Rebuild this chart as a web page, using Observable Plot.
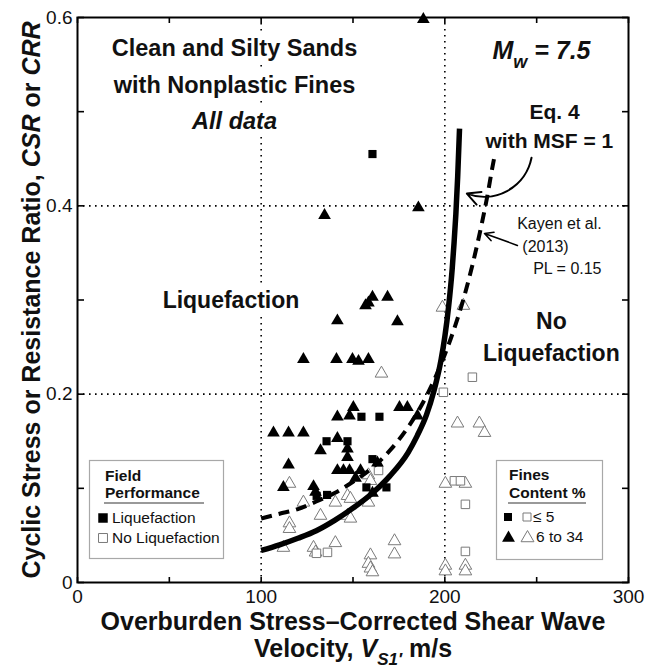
<!DOCTYPE html>
<html><head><meta charset="utf-8">
<script src="https://cdn.jsdelivr.net/npm/d3@7"></script>
<script src="https://cdn.jsdelivr.net/npm/@observablehq/plot@0.6"></script>
<style>
html,body{margin:0;padding:0;background:#fff;}
#chart{position:relative;width:648px;height:668px;}
#chart svg{display:block;}
</style></head>
<body><div id="chart"></div>
<script>
// ---- Data ----
// Field performance: Liquefaction, fines content <= 5 % (filled squares)
const liqFinesLow = [[160.6,0.455],[164.4,0.176],[154.6,0.176],[135.6,0.150],[147.0,0.150],[160.6,0.131],[157.3,0.101],[168.2,0.101],[130.2,0.092],[135.9,0.093]];
// Liquefaction, fines content 6 to 34 % (filled triangles)
const liqFinesHigh = [[188.3,0.598],[185.6,0.398],[134.5,0.390],[160.6,0.303],[158.4,0.297],[156.8,0.294],[168.8,0.303],[141.5,0.278],[174.2,0.277],[123.0,0.237],[141.0,0.237],[149.7,0.237],[153.0,0.235],[158.4,0.237],[150.2,0.186],[148.1,0.177],[141.5,0.176],[175.3,0.186],[179.6,0.186],[185.1,0.177],[106.7,0.159],[114.9,0.159],[123.0,0.159],[141.5,0.153],[132.3,0.140],[147.0,0.142],[147.0,0.133],[114.9,0.125],[141.5,0.119],[144.8,0.119],[148.1,0.119],[154.1,0.119],[151.4,0.111],[163.3,0.127],[112.1,0.101],[128.5,0.102],[129.6,0.096],[160.6,0.095]];
// No liquefaction, fines content <= 5 % (open squares)
const noLiqFinesLow = [[215.0,0.218],[199.2,0.202],[163.9,0.119],[130.1,0.031],[136.1,0.032],[205.2,0.108],[208.5,0.108],[211.2,0.083],[211.2,0.033]];
// No liquefaction, fines content 6 to 34 % (open triangles)
const noLiqFinesHigh = [[198.7,0.292],[210.1,0.294],[165.5,0.222],[206.9,0.169],[218.8,0.169],[221.6,0.159],[115.4,0.105],[123.0,0.085],[158.4,0.114],[159.5,0.108],[140.4,0.085],[147.0,0.092],[148.6,0.089],[158.4,0.085],[115.4,0.063],[115.4,0.057],[132.3,0.071],[147.0,0.071],[148.6,0.068],[112.1,0.037],[128.5,0.037],[129.6,0.032],[140.4,0.042],[159.5,0.029],[158.4,0.020],[159.5,0.015],[160.6,0.011],[172.6,0.044],[172.6,0.030],[200.3,0.105],[211.2,0.105],[200.3,0.018],[200.3,0.012],[211.2,0.018],[211.2,0.012]];
// Eq. 4 with MSF = 1 (solid curve)
const eq4Curve = [[100,0.034],[110,0.040],[120,0.047],[130,0.055],[140,0.066],[150,0.079],[160,0.094],[170,0.113],[180,0.138],[185,0.156],[190,0.178],[194,0.203],[198,0.237],[200,0.261],[202,0.292],[204,0.333],[205,0.360],[206,0.391],[207,0.431],[208,0.482]];
// Kayen et al. (2013), PL = 0.15 (dashed curve)
const kayenCurve = [[100,0.068],[110,0.073],[120,0.078],[130,0.086],[140,0.095],[150,0.107],[160,0.121],[170,0.140],[180,0.165],[190,0.198],[200,0.242],[205,0.269],[210,0.300],[215,0.337],[220,0.380],[223,0.409],[226,0.442],[227,0.452]];
// Axis ticks and labels
const xTicks = [0,50,100,150,200,250,300];
const yTicks = [0,0.1,0.2,0.3,0.4,0.5,0.6];
const xTickLabels = [0,100,200,300];
const yTickLabels = [0,0.2,0.4,0.6];
const xGrid = [100,200];
const yGrid = [0.2,0.4];
// Annotation texts (anchored in data units)
const titleLines = [{text:"Clean and Silty Sands",x:85.5,y:0.5596},{text:"with Nonplastic Fines",x:85.5,y:0.5203}];
const titleItalic = [{text:"All data",x:85.5,y:0.4821}];
const magnitudeLabel = [{text:"Mw = 7.5",x:225.9,y:0.5564}];
const eqLabel = [{text:"Eq. 4",x:259.7,y:0.4927},{text:"with MSF = 1",x:256.9,y:0.4619}];
const liqLabel = [{text:"Liquefaction",x:120.8,y:0.291}];
const noLiqLabel = [{text:"No",x:258.0,y:0.2687},{text:"Liquefaction",x:258.0,y:0.2347}];
const kayenLabel = [{text:"Kayen et al.",x:262.4,y:0.3759},{text:"(2013)",x:254.8,y:0.3515},{text:"PL = 0.15",x:266.7,y:0.3271}];
const eqArrow = [{x1:247.2,y1:0.451,x2:212.0,y2:0.413}];
const kayenArrow = [{x1:239.5,y1:0.358,x2:221.6,y2:0.3706}];
const xTitle1 = "Overburden Stress\u2013Corrected Shear Wave";
const xTitle2 = "Velocity, VS1\u2032 m/s";
const yTitle = "Cyclic Stress or Resistance Ratio, CSR or CRR";

const FONT = "'Liberation Sans', Arial, Helvetica, sans-serif";
const X = d => d[0], Y = d => d[1];
const openGray = "#7a7a7a";
const halo = {stroke: "white", strokeWidth: 10, strokeLinejoin: "round"};

const svg = Plot.plot({
  width: 648, height: 668,
  marginLeft: 77, marginRight: 20, marginTop: 17, marginBottom: 86,
  style: {fontFamily: FONT, background: "white", color: "black", overflow: "visible"},
  x: {domain: [0, 300], label: null},
  y: {domain: [0, 0.6], label: null},
  marks: [
    Plot.gridX(xGrid, {stroke: "black", strokeOpacity: 1, strokeWidth: 1.6, strokeDasharray: "1.6,4.4"}),
    Plot.gridY(yGrid, {stroke: "black", strokeOpacity: 1, strokeWidth: 1.6, strokeDasharray: "1.6,4.4"}),
    // annotations with a white halo that hides the dotted lines behind them
    Plot.text(titleLines, {x: "x", y: "y", text: "text", fontSize: 23.5, fontWeight: "bold", lineAnchor: "bottom", fill: "#111", ...halo, strokeWidth: 14}),
    Plot.text(titleItalic, {x: "x", y: "y", text: "text", fontSize: 23.5, fontWeight: "bold", fontStyle: "italic", lineAnchor: "bottom", fill: "#111", ...halo, strokeWidth: 14}),
    Plot.text(liqLabel, {x: "x", y: "y", text: "text", fontSize: 23, fontWeight: "bold", textAnchor: "end", lineAnchor: "bottom", fill: "#111", ...halo}),
    Plot.dot(noLiqFinesHigh, {x: X, y: Y, symbol: "triangle", r: 4.7, stroke: openGray, strokeWidth: 1, fill: "white"}),
    Plot.dot(noLiqFinesLow, {x: X, y: Y, symbol: "square", r: 4.8, stroke: openGray, strokeWidth: 1, fill: "white"}),
    Plot.line(kayenCurve, {x: X, y: Y, curve: "monotone-x", stroke: "black", strokeWidth: 4, strokeDasharray: "11,7", strokeLinecap: "butt"}),
    Plot.line(eq4Curve, {x: X, y: Y, curve: "monotone-x", stroke: "black", strokeWidth: 5.5, strokeLinecap: "butt"}),
    Plot.dot(liqFinesHigh, {x: X, y: Y, symbol: "triangle", r: 4.7, fill: "black", stroke: "none"}),
    Plot.dot(liqFinesLow, {x: X, y: Y, symbol: "square", r: 4.6, fill: "black", stroke: "none"}),
    Plot.frame({stroke: "black", strokeWidth: 2}),
    // inward ticks on all four sides
    Plot.axisX(xTicks, {anchor: "top", frameAnchor: "bottom", tickSize: 6, fill: "none", strokeWidth: 1.6, label: null}),
    Plot.axisX(xTicks, {anchor: "bottom", frameAnchor: "top", tickSize: 6, fill: "none", strokeWidth: 1.6, label: null}),
    Plot.axisY(yTicks, {anchor: "right", frameAnchor: "left", tickSize: 6, fill: "none", strokeWidth: 1.6, label: null}),
    Plot.axisY(yTicks, {anchor: "left", frameAnchor: "right", tickSize: 6, fill: "none", strokeWidth: 1.6, label: null}),
    // tick labels
    Plot.axisX(xTickLabels, {anchor: "bottom", tickSize: 0, tickPadding: 7, fontSize: 19, label: null, fill: "#111"}),
    Plot.axisY(yTickLabels, {anchor: "left", tickSize: 0, tickPadding: 5, fontSize: 19, label: null, fill: "#111",
      tickFormat: d => d === 0 ? "0" : d.toFixed(1)}),
    // axis titles
    Plot.text([xTitle1], {frameAnchor: "bottom", dy: 47, fontSize: 25, fontWeight: "bold", lineAnchor: "bottom", textAnchor: "middle", fill: "#111"}),
    Plot.text([xTitle2], {frameAnchor: "bottom", dy: 74, fontSize: 25, fontWeight: "bold", lineAnchor: "bottom", textAnchor: "middle", fill: "#111"}),
    Plot.text([yTitle], {frameAnchor: "left", dx: -38, rotate: -90, fontSize: 25, fontWeight: "bold", lineAnchor: "bottom", textAnchor: "middle", fill: "#111"}),
    // other annotations
    Plot.text(magnitudeLabel, {x: "x", y: "y", text: "text", fontSize: 25, fontWeight: "bold", fontStyle: "italic", textAnchor: "start", lineAnchor: "bottom", fill: "#111"}),
    Plot.text(eqLabel, {x: "x", y: "y", text: "text", fontSize: 21, fontWeight: "bold", lineAnchor: "bottom", fill: "#111"}),
    Plot.text(noLiqLabel, {x: "x", y: "y", text: "text", fontSize: 23, fontWeight: "bold", lineAnchor: "bottom", fill: "#111"}),
    Plot.text(kayenLabel, {x: "x", y: "y", text: "text", fontSize: 16, lineAnchor: "bottom", fill: "#111"}),
    Plot.arrow(eqArrow, {x1: "x1", y1: "y1", x2: "x2", y2: "y2", bend: 50, strokeWidth: 2, headLength: 11, headAngle: 55, stroke: "black"}),
    Plot.arrow(kayenArrow, {x1: "x1", y1: "y1", x2: "x2", y2: "y2", strokeWidth: 1.6, headLength: 9, headAngle: 55, stroke: "black"})
  ]
});

// rich text: italics and subscripts
function rich(match, build) {
  d3.select(svg).selectAll("text").filter(function() { return this.textContent === match; })
    .each(function() { const t = d3.select(this); t.text(null); build(t); });
}
rich("Mw = 7.5", t => {
  t.append("tspan").text("M");
  t.append("tspan").attr("dy", 9).attr("font-size", 18).text("w");
  t.append("tspan").attr("dy", -9).text(" = 7.5");
});
rich(xTitle2, t => {
  t.append("tspan").text("Velocity, ");
  t.append("tspan").attr("font-style", "italic").text("V");
  t.append("tspan").attr("font-style", "italic").attr("dy", 8).attr("font-size", 17).text("S1\u2032");
  t.append("tspan").attr("dy", -8).text(" m/s");
});
rich(yTitle, t => {
  t.append("tspan").text("Cyclic Stress or Resistance Ratio, ");
  t.append("tspan").attr("font-style", "italic").text("CSR");
  t.append("tspan").text(" or ");
  t.append("tspan").attr("font-style", "italic").text("CRR");
});

const chart = document.getElementById("chart");
chart.appendChild(svg);

// ---- legends (inside the plot frame) ----
const leg = d3.select(chart).append("svg")
  .attr("width", 648).attr("height", 668)
  .style("position", "absolute").style("left", "0px").style("top", "0px")
  .style("font-family", FONT);

function box(x, y, w, h) {
  const g = leg.append("g").attr("transform", `translate(${x},${y})`);
  g.append("rect").attr("x", 0.5).attr("y", 0.5).attr("width", w).attr("height", h)
    .attr("fill", "white").attr("stroke", "#a8a8a8").attr("stroke-width", 1.2);
  return g;
}
const sym = (type, size) => d3.symbol(type, size)();

const g1 = box(89, 460, 134, 98);
g1.append("text").attr("x", 16).attr("y", 21).attr("font-size", 15.5).attr("font-weight", "bold").attr("fill", "#111").text("Field");
g1.append("text").attr("x", 16).attr("y", 38).attr("font-size", 15.5).attr("font-weight", "bold").attr("fill", "#111").text("Performance");
g1.append("line").attr("x1", 15).attr("x2", 115).attr("y1", 43).attr("y2", 43).attr("stroke", "#999").attr("stroke-width", 2);
g1.append("path").attr("transform", "translate(14,58)").attr("d", sym(d3.symbolSquare, 90)).attr("fill", "black");
g1.append("text").attr("x", 23).attr("y", 63).attr("font-size", 15.5).attr("fill", "#111").text("Liquefaction");
g1.append("path").attr("transform", "translate(14,78)").attr("d", sym(d3.symbolSquare, 80)).attr("fill", "white").attr("stroke", openGray);
g1.append("text").attr("x", 23).attr("y", 83).attr("font-size", 15.5).attr("fill", "#111").text("No Liquefaction");

const g2 = box(496, 460, 106, 99);
g2.append("text").attr("x", 13).attr("y", 20).attr("font-size", 15.5).attr("font-weight", "bold").attr("fill", "#111").text("Fines");
g2.append("text").attr("x", 13).attr("y", 38).attr("font-size", 15.5).attr("font-weight", "bold").attr("fill", "#111").text("Content %");
g2.append("line").attr("x1", 12).attr("x2", 90).attr("y1", 43).attr("y2", 43).attr("stroke", "#999").attr("stroke-width", 2);
g2.append("path").attr("transform", "translate(12,57)").attr("d", sym(d3.symbolSquare, 64)).attr("fill", "black");
g2.append("path").attr("transform", "translate(31,57)").attr("d", sym(d3.symbolSquare, 64)).attr("fill", "white").attr("stroke", openGray);
g2.append("text").attr("x", 37).attr("y", 62).attr("font-size", 15.5).attr("fill", "#111").text("\u2264 5");
g2.append("path").attr("transform", "translate(12.5,78)").attr("d", sym(d3.symbolTriangle, 72)).attr("fill", "black");
g2.append("path").attr("transform", "translate(31.5,78)").attr("d", sym(d3.symbolTriangle, 72)).attr("fill", "white").attr("stroke", openGray);
g2.append("text").attr("x", 40).attr("y", 82).attr("font-size", 15.5).attr("fill", "#111").text("6 to 34");
</script></body></html>
